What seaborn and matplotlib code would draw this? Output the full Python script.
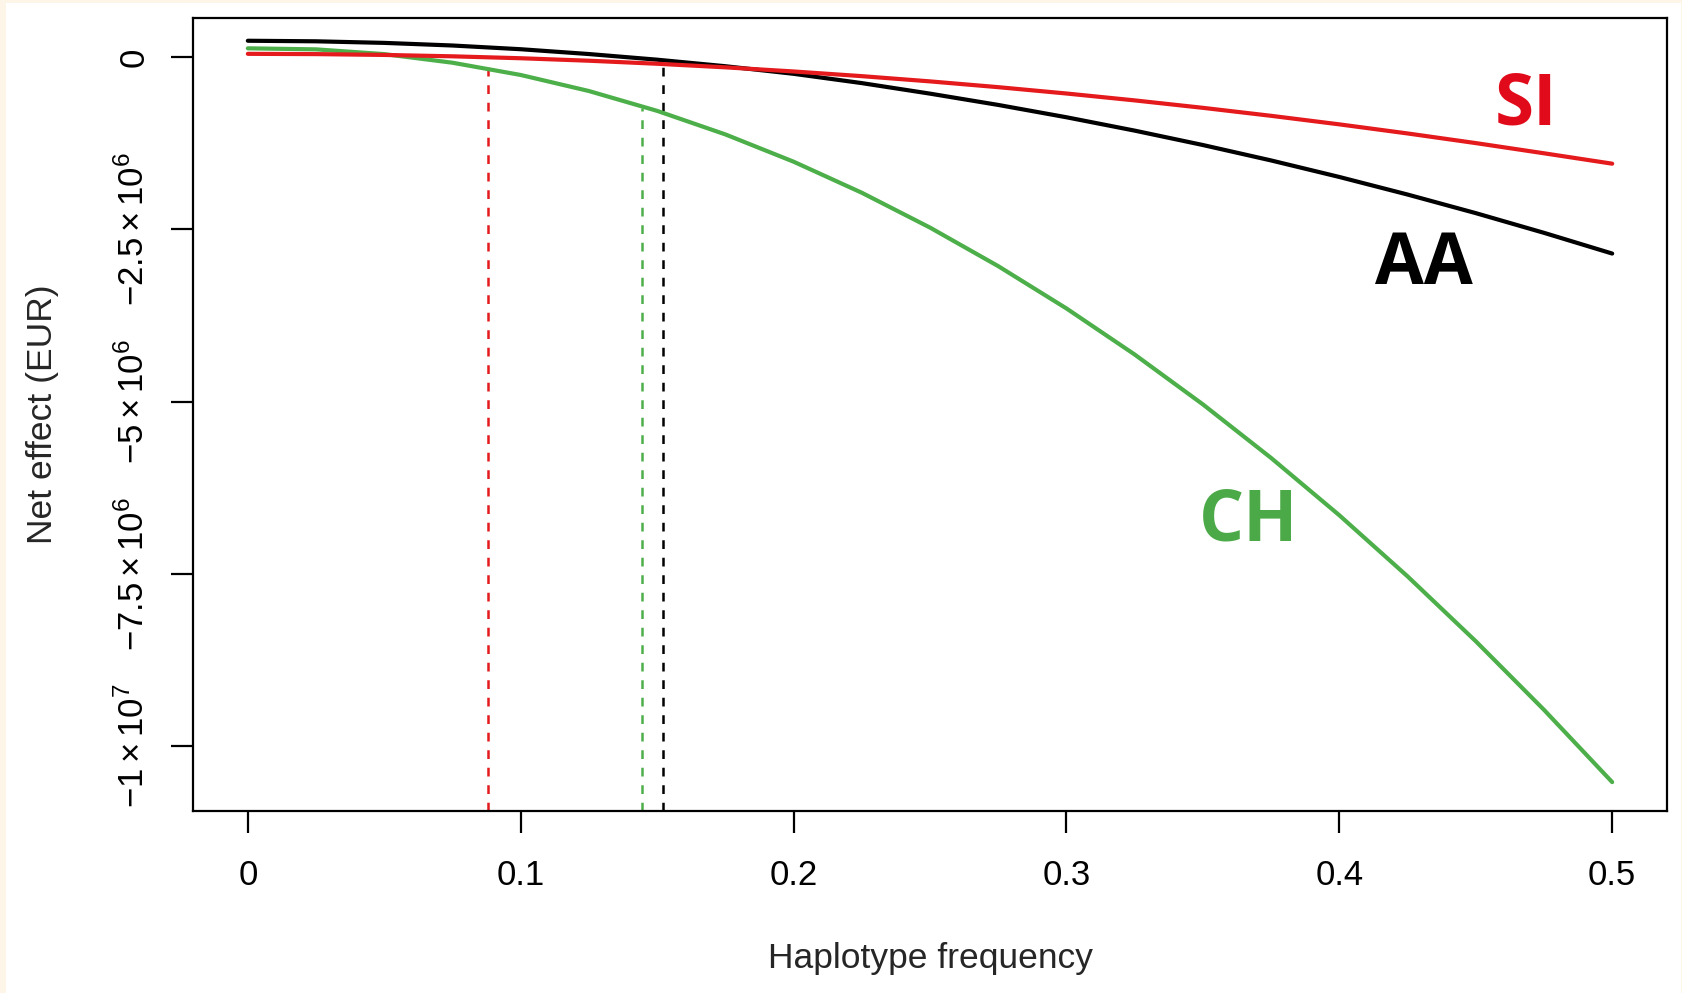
import numpy as np
import pandas as pd
import matplotlib
matplotlib.use("Agg")
import matplotlib.pyplot as plt
import seaborn as sns
from matplotlib.patches import Rectangle

# -----------------------------
# Data (net effect in millions of EUR)
# -----------------------------
freq = [0.0, 0.025, 0.05, 0.075, 0.1, 0.125, 0.15, 0.175, 0.2, 0.225, 0.25,
        0.275, 0.3, 0.325, 0.35, 0.375, 0.4, 0.425, 0.45, 0.475, 0.5]
aa_net = [0.24, 0.232, 0.209, 0.171, 0.117, 0.047, -0.035, -0.130, -0.240, -0.375, -0.528,
          -0.692, -0.871, -1.065, -1.274, -1.498, -1.738, -1.993, -2.263, -2.549, -2.850]
si_net = [0.05, 0.046, 0.034, 0.014, -0.014, -0.050, -0.094, -0.146, -0.206, -0.274, -0.350,
          -0.434, -0.526, -0.626, -0.734, -0.850, -0.974, -1.106, -1.246, -1.394, -1.545]
ch_net = [0.13, 0.115, 0.046, -0.079, -0.257, -0.490, -0.778, -1.120, -1.516, -1.967, -2.473,
          -3.033, -3.647, -4.316, -5.040, -5.818, -6.650, -7.537, -8.479, -9.475, -10.525]

# break-even frequencies (dashed markers) and curve value there
cut_group = ["SI", "CH", "AA"]
cut_freq = [0.0881, 0.1445, 0.1521]
cut_top = [-0.005, -0.73, -0.04]

colors = {"AA": "#000000", "SI": "#E41A1C", "CH": "#4DAF4A"}
label_colors = {"AA": "#000000", "SI": "#E10A1A", "CH": "#4BAA47"}

x_ticks = [0, 0.1, 0.2, 0.3, 0.4, 0.5]
x_tick_labels = ["0", "0.1", "0.2", "0.3", "0.4", "0.5"]
y_ticks = [0, -2.5e6, -5e6, -7.5e6, -1e7]
y_tick_labels = ["0", r"$-2.5\times10^{6}$", r"$-5\times10^{6}$",
                 r"$-7.5\times10^{6}$", r"$-1\times10^{7}$"]

df = pd.DataFrame({
    "freq": freq * 3,
    "net": np.array(aa_net + si_net + ch_net) * 1e6,
    "group": ["AA"] * len(freq) + ["SI"] * len(freq) + ["CH"] * len(freq),
})

# -----------------------------
# Style
# -----------------------------
sns.set_style("white")
plt.rcParams["font.family"] = ["Liberation Sans", "DejaVu Sans"]
plt.rcParams["mathtext.fontset"] = "custom"
plt.rcParams["mathtext.rm"] = "Liberation Sans"
plt.rcParams["mathtext.it"] = "Liberation Sans:italic"
plt.rcParams["mathtext.bf"] = "Liberation Sans:bold"

W, H = 1683, 993
fig = plt.figure(figsize=(W / 100, H / 100), dpi=100)
fig.patch.set_facecolor("#FDF6E8")
fig.add_artist(Rectangle((6 / W, 0), (1681 - 6) / W, (H - 3) / H,
                         transform=fig.transFigure, facecolor="white",
                         edgecolor="none", zorder=0))

ax = fig.add_axes([193 / W, 1 - 810.7 / H, (1667.3 - 193) / W, (810.7 - 18.3) / H])
ax.set_facecolor("white")

ylim = (-10.94e6, 0.566e6)

# dashed break-even lines
for g, xf, yt in zip(cut_group, cut_freq, cut_top):
    ax.vlines(xf, ylim[0], yt * 1e6, colors=colors[g], linestyles=(0, (3.5, 3.5)),
              linewidth=1.8, zorder=2)

sns.lineplot(data=df, x="freq", y="net", hue="group", palette=colors,
             hue_order=["CH", "AA", "SI"], linewidth=3.0, legend=False,
             ax=ax, zorder=3)

# group labels
ax.text(0.4684, -0.983e6, "SI", color=label_colors["SI"], fontsize=51,
        fontweight="bold", family=["Open Sans", "DejaVu Sans"],
        ha="center", va="baseline")
ax.text(0.4311, -3.29e6, "AA", color=label_colors["AA"], fontsize=51,
        fontweight="bold", family=["Open Sans", "DejaVu Sans"],
        ha="center", va="baseline")
ax.text(0.3666, -7.01e6, "CH", color=label_colors["CH"], fontsize=51,
        fontweight="bold", family=["Open Sans", "DejaVu Sans"],
        ha="center", va="baseline")

ax.set_xlim(-0.0201, 0.5202)
ax.set_ylim(*ylim)

ax.set_xticks(x_ticks)
ax.set_xticklabels(x_tick_labels)
ax.set_yticks(y_ticks)
ax.set_yticklabels(y_tick_labels, rotation=90, va="center")

ax.tick_params(axis="both", which="major", direction="out", length=15.5,
               width=1.6, color="black", labelsize=25, labelcolor="black",
               left=True, bottom=True)
ax.tick_params(axis="x", pad=19)
ax.tick_params(axis="y", pad=15)

for s in ax.spines.values():
    s.set_visible(True)
    s.set_color("black")
    s.set_linewidth(1.6)

ax.set_xlabel("Haplotype frequency", fontsize=25.5, va="center")
ax.set_ylabel("Net effect (EUR)", fontsize=25.5, va="center")
ax.xaxis.set_label_coords(0.5, -0.1867)
ax.yaxis.set_label_coords(-0.1018, 0.5)

fig.savefig("out.png", dpi=100, facecolor=fig.get_facecolor())
